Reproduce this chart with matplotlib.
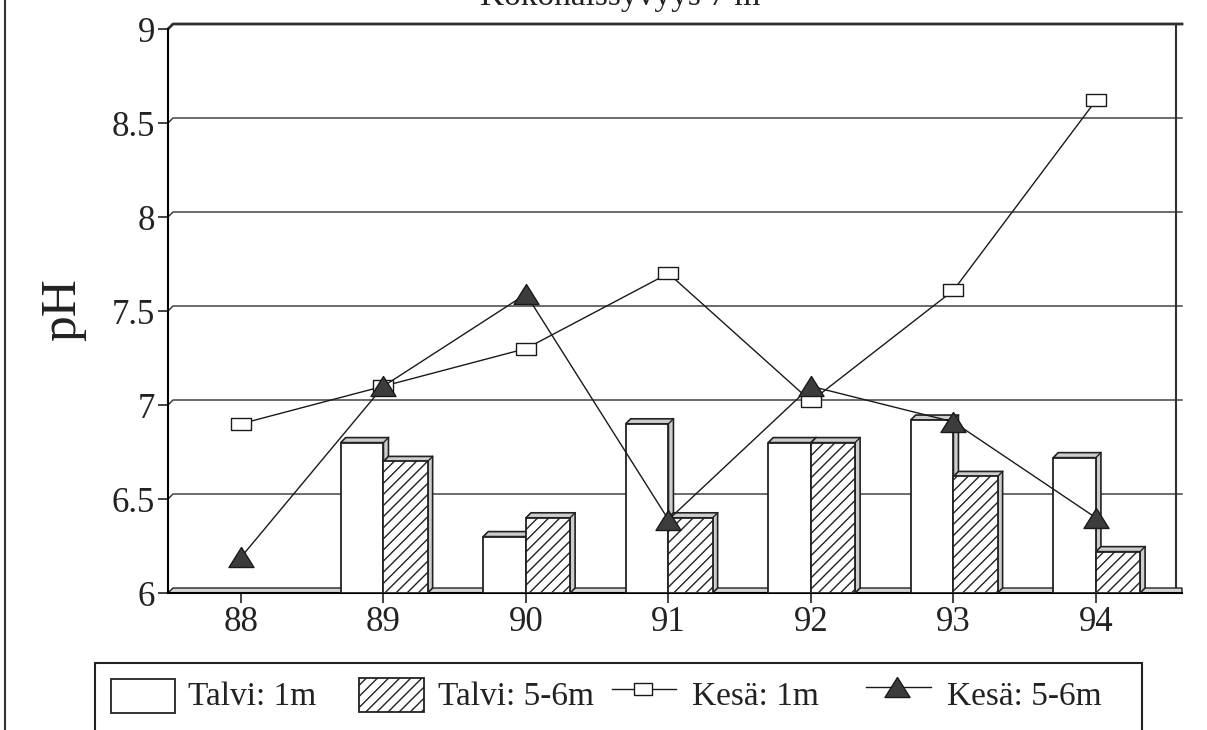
import numpy as np
import matplotlib
matplotlib.use("Agg")
import matplotlib.pyplot as plt
from matplotlib.patches import Polygon, Rectangle
from matplotlib.lines import Line2D

# --- data -------------------------------------------------------------
years = [88, 89, 90, 91, 92, 93, 94]
year_labels = ["88", "89", "90", "91", "92", "93", "94"]

talvi_1m = [None, 6.80, 6.30, 6.90, 6.80, 6.92, 6.72]
talvi_56m = [None, 6.70, 6.40, 6.40, 6.80, 6.62, 6.22]
kesa_1m = [6.90, 7.10, 7.30, 7.70, 7.02, 7.61, 8.62]
kesa_56m = [6.19, 7.10, 7.59, 6.39, 7.10, 6.91, 6.40]

y_ticks = [6, 6.5, 7, 7.5, 8, 8.5, 9]
y_tick_labels = ["6", "6.5", "7", "7.5", "8", "8.5", "9"]

series_names = ["Talvi: 1m", "Talvi: 5-6m", "Kesä: 1m", "Kesä: 5-6m"]
title_text = "Kokonaissyvyys 7 m"
y_label = "pH"

# --- figure -----------------------------------------------------------
plt.rcParams["font.family"] = ["Liberation Serif", "DejaVu Serif"]
plt.rcParams["hatch.linewidth"] = 1.0

W, H = 1207, 730
fig = plt.figure(figsize=(W / 100, H / 100), dpi=100)


def fx(px):
    return px / W


def fy(py):
    return 1 - py / H


ax = fig.add_axes([fx(168), fy(593), fx(1182) - fx(168), fy(29) - fy(593)])
XL, XR = 87.488, 94.604
ax.set_xlim(XL, XR)
ax.set_ylim(6, 9)

# depth of the pseudo-3D extrusion, 5 px in each direction
to_data = ax.transData.inverted()
p0 = to_data.transform(ax.transData.transform((XL, 6)))
p1 = to_data.transform(ax.transData.transform((XL, 6)) + np.array([5, 5]))
dx, dy = p1 - p0

for s in ["top", "right"]:
    ax.spines[s].set_visible(False)
ax.spines["left"].set_linewidth(1.5)
ax.spines["bottom"].set_linewidth(1.5)

ax.set_yticks(y_ticks)
ax.set_yticklabels(y_tick_labels)
ax.set_xticks(years)
ax.set_xticklabels(year_labels)
ax.tick_params(axis="both", direction="out", length=7.5, width=1.2,
               labelsize=25, pad=2, color="#222222", labelcolor="#222222")

# back wall grid lines with a short diagonal join to the axis
line_kw = dict(color="#303030", clip_on=False, zorder=1)
for v in y_ticks[1:]:
    lw = 2.0 if v == 9 else 1.0
    ax.add_line(Line2D([XL, XL + dx, XR], [v, v + dy, v + dy], lw=lw, **line_kw))
ax.add_line(Line2D([XR - 1.2 * dx] * 2, [6 + dy, 9 + dy], lw=1.5, **line_kw))

# floor slab
ax.add_patch(Polygon([(XL, 6), (XL + dx, 6 + dy), (XR, 6 + dy), (XR, 6)],
                     closed=True, facecolor="#d6d6d6", edgecolor="#222222",
                     lw=1.0, zorder=1.5, clip_on=False))


def bars_3d(xs, vals, offset, width, hatch):
    xs_ok = [x for x, v in zip(xs, vals) if v is not None]
    vs_ok = [v - 6 for v in vals if v is not None]
    container = ax.bar(np.array(xs_ok) + offset, vs_ok, width=width, bottom=6,
                       align="edge", facecolor="white", edgecolor="#222222",
                       lw=1.3, hatch=hatch, zorder=3)
    for r in container.patches:
        x0, w, h = r.get_x(), r.get_width(), r.get_height()
        x1, top = x0 + w, 6 + h
        side = Polygon([(x0, top), (x0 + dx, top + dy), (x1 + dx, top + dy),
                        (x1 + dx, 6 + dy), (x1, 6), (x1, top)], closed=True,
                       facecolor="#cdcdcd", edgecolor="#222222", lw=1.2,
                       zorder=r.get_zorder() - 0.1)
        ax.add_patch(side)
        ax.add_line(Line2D([x1, x1 + dx], [top, top + dy], color="#222222",
                           lw=1.0, zorder=r.get_zorder() - 0.05))
    return container


bars_3d(years, talvi_1m, -0.30, 0.30, None)
bars_3d(years, talvi_56m, 0.0, 0.31, "///")

rect_marker = [(-1, -0.65), (1, -0.65), (1, 0.65), (-1, 0.65), (-1, -0.65)]
tri_marker = [(0, 0.8), (-1, -0.8), (1, -0.8), (0, 0.8)]

ax.plot(years, kesa_1m, color="#1a1a1a", lw=1.0, marker=rect_marker,
        markersize=14, mfc="white", mec="#1a1a1a", mew=1.0, zorder=6,
        clip_on=False)
ax.plot(years, kesa_56m, color="#1a1a1a", lw=1.0, marker=tri_marker,
        markersize=18, mfc="#3c3c3c", mec="#1a1a1a", mew=1.0, zorder=7,
        clip_on=False)

# axis label and (cropped) heading
fig.text(fx(63), fy(310), y_label, rotation=90, ha="center", va="center",
         fontsize=37, color="#222222")
fig.text(fx(620), fy(5), title_text, ha="center", va="baseline",
         fontsize=24, color="#222222")

# page border at the left
fig.add_artist(Line2D([fx(5), fx(5)], [0, 1], color="#333333", lw=1.5))

# --- legend box -------------------------------------------------------
fig.add_artist(Rectangle((fx(95), fy(745)), fx(1142) - fx(95), fy(663) - fy(745),
                         facecolor="none", edgecolor="#222222", lw=1.5))
fig.add_artist(Rectangle((fx(111), fy(713)), fx(175) - fx(111), fy(679) - fy(713),
                         facecolor="white", edgecolor="#222222", lw=1.3))
fig.add_artist(Rectangle((fx(359), fy(712)), fx(424) - fx(359), fy(678) - fy(712),
                         facecolor="white", edgecolor="#222222", lw=1.3,
                         hatch="///"))
fig.add_artist(Line2D([fx(612), fx(676)], [fy(689)] * 2, color="#1a1a1a", lw=1.0))
fig.add_artist(Line2D([fx(643)], [fy(689)], marker=rect_marker, markersize=13,
                      mfc="white", mec="#1a1a1a", mew=1.0, lw=0))
fig.add_artist(Line2D([fx(866), fx(931)], [fy(687)] * 2, color="#1a1a1a", lw=1.0))
fig.add_artist(Line2D([fx(897)], [fy(687)], marker=tri_marker, markersize=18,
                      mfc="#3c3c3c", mec="#1a1a1a", mew=1.0, lw=0))

legend_x = [188, 438, 692, 947]
for name, x in zip(series_names, legend_x):
    fig.text(fx(x), fy(705), name, ha="left", va="baseline", fontsize=24,
             color="#222222")

fig.savefig("out.png", dpi=100)
